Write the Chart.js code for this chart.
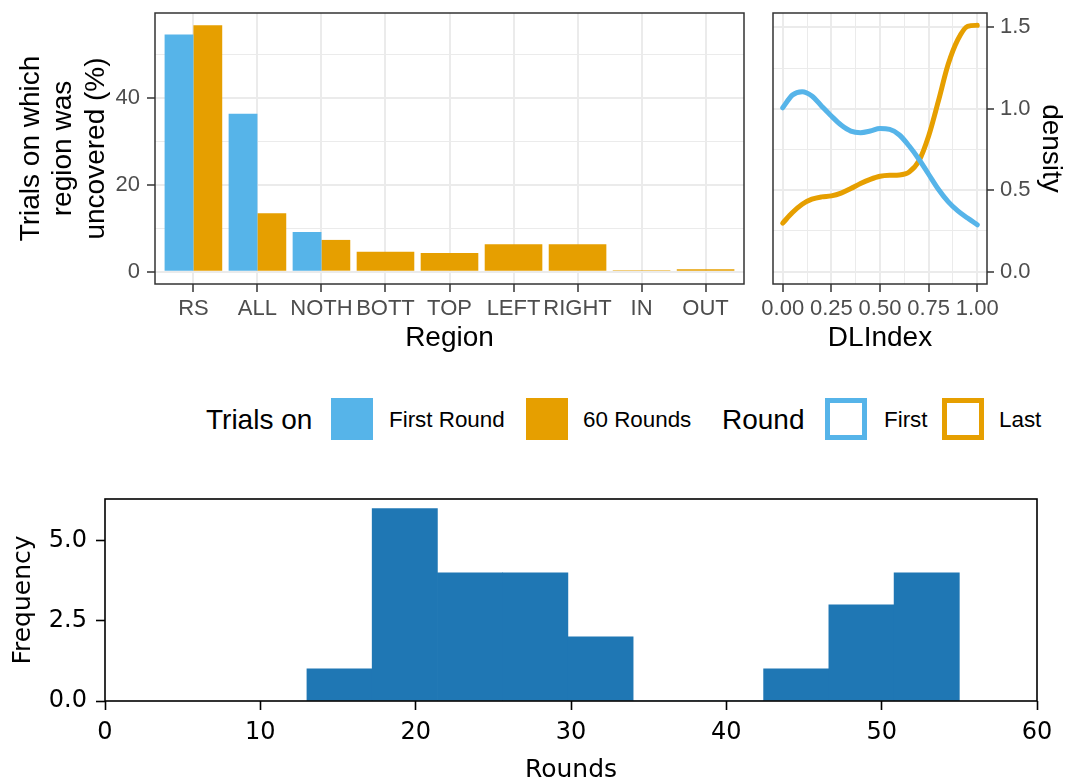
<!DOCTYPE html>
<html>
<head>
<meta charset="utf-8">
<script src="https://cdn.jsdelivr.net/npm/chart.js@4.4.0/dist/chart.umd.min.js"></script>
<style>
  body { margin: 0; background: #fff; width: 1077px; height: 780px; position: relative; overflow: hidden; font-family: 'Liberation Sans', Arial, sans-serif; }
  canvas { position: absolute; }
  .lg { position: absolute; top: 399px; height: 42px; line-height: 42px; white-space: nowrap; color: #000; }
  .lg.title { font-size: 28px; }
  .lg.item { font-size: 22.4px; }
  .key { position: absolute; top: 398px; width: 42px; height: 42px; box-sizing: border-box; }
</style>
</head>
<body>
<canvas id="barChart" width="760" height="360" style="left:0;top:0"></canvas>
<canvas id="densityChart" width="317" height="360" style="left:760px;top:0"></canvas>
<canvas id="histChart" width="1077" height="290" style="left:0;top:490px"></canvas>

<!-- legend -->
<span class="lg title" style="left:206px">Trials on</span>
<div class="key" style="left:331px;background:#56B4E9"></div>
<span class="lg item" style="left:389px">First Round</span>
<div class="key" style="left:526px;background:#E69F00"></div>
<span class="lg item" style="left:583px">60 Rounds</span>
<span class="lg title" style="left:722px">Round</span>
<div class="key" style="left:825px;border:5px solid #56B4E9"></div>
<span class="lg item" style="left:884px">First</span>
<div class="key" style="left:942px;border:5px solid #E69F00"></div>
<span class="lg item" style="left:999px">Last</span>

<script>
// Data
const regions = ['RS', 'ALL', 'NOTH', 'BOTT', 'TOP', 'LEFT', 'RIGHT', 'IN', 'OUT'];
const firstRound = [54.5, 36.3, 9.1, null, null, null, null, null, null];
const sixtyRounds = [56.6, 13.4, 7.3, 4.6, 4.3, 6.3, 6.3, 0.35, 0.55];

const dlIndex = [0, 0.05, 0.1, 0.15, 0.2, 0.25, 0.3, 0.35, 0.4, 0.45, 0.5, 0.55, 0.6, 0.65, 0.7, 0.75, 0.8, 0.85, 0.9, 0.95, 1.0];
const densityFirst = [1.006, 1.084, 1.104, 1.078, 1.016, 0.955, 0.9, 0.863, 0.853, 0.863, 0.878, 0.873, 0.839, 0.771, 0.69, 0.598, 0.506, 0.43, 0.373, 0.329, 0.288];
const densityLast = [0.298, 0.363, 0.414, 0.445, 0.459, 0.465, 0.482, 0.51, 0.541, 0.567, 0.586, 0.592, 0.594, 0.612, 0.68, 0.833, 1.047, 1.271, 1.424, 1.506, 1.512];

const binEdges = [13, 17.2, 21.4, 25.6, 29.8, 34, 38.2, 42.4, 46.6, 50.8, 55];
const roundCounts = [1, 6, 4, 4, 2, 0, 0, 1, 3, 4];

const BLUE = '#56B4E9';
const ORANGE = '#E69F00';
const GRID = '#EBEBEB';
const DARK = '#333333';
const TICK_TEXT = '#4D4D4D';

Chart.defaults.animation = false;
Chart.defaults.responsive = false;
Chart.defaults.font.family = "'Liberation Sans', Arial, sans-serif";

// Draw a frame around the plot area
const panelBorder = {
    id: 'panelBorder',
    afterDatasetsDraw(chart, args, opts) {
        const a = chart.chartArea;
        const ctx = chart.ctx;
        ctx.save();
        ctx.strokeStyle = opts.color;
        ctx.lineWidth = opts.width;
        ctx.strokeRect(a.left, a.top, a.right - a.left, a.bottom - a.top);
        ctx.restore();
    }
};

// Fix axis box size so panels line up
function fixSize(size) {
    return function (scale) {
        if (scale.isHorizontal()) scale.height = size;
        else scale.width = size;
        scale.paddingLeft = scale.paddingRight = scale.paddingTop = scale.paddingBottom = 0;
    };
}

function setTicks(values) {
    return function (scale) {
        scale.ticks = values.map(v => ({ value: v }));
    };
}

const isMultiple = (v, step) => Math.abs(v / step - Math.round(v / step)) < 1e-9;

// Bar chart
new Chart(document.getElementById('barChart'), {
    type: 'bar',
    data: {
        datasets: [
            {
                label: 'First Round',
                data: regions.map((r, i) => ({ x: i + 1, y: firstRound[i] })),
                backgroundColor: BLUE,
                borderWidth: 0
            },
            {
                label: '60 Rounds',
                data: regions.map((r, i) => ({ x: i + 1, y: sixtyRounds[i] })),
                backgroundColor: ORANGE,
                borderWidth: 0
            }
        ]
    },
    options: {
        skipNull: true,
        categoryPercentage: 0.9,
        barPercentage: 1,
        layout: { padding: { top: 13, right: 16, left: 0, bottom: 0 } },
        plugins: {
            legend: { display: false },
            tooltip: { enabled: false },
            panelBorder: { color: DARK, width: 1.5 }
        },
        scales: {
            x: {
                type: 'linear',
                min: 0.4,
                max: 9.6,
                offset: false,
                afterBuildTicks: setTicks(regions.map((r, i) => i + 1)),
                afterFit: fixSize(76),
                grid: { offset: false, color: GRID, lineWidth: 2, tickColor: DARK, tickLength: 8, tickWidth: 1.5 },
                border: { display: false },
                ticks: {
                    autoSkip: false, maxRotation: 0, minRotation: 0, padding: 4,
                    color: TICK_TEXT, font: { size: 22 },
                    callback: v => regions[Math.round(v) - 1]
                },
                title: { display: true, text: 'Region', color: '#000', font: { size: 28 }, padding: { top: 0, bottom: 5 } }
            },
            y: {
                min: -2.83,
                max: 59.43,
                afterBuildTicks: setTicks([0, 10, 20, 30, 40, 50]),
                afterFit: fixSize(155),
                grid: {
                    color: GRID,
                    lineWidth: ctx => (ctx.tick && isMultiple(ctx.tick.value, 20)) ? 2 : 1,
                    tickColor: ctx => (ctx.tick && isMultiple(ctx.tick.value, 20)) ? DARK : 'rgba(0,0,0,0)',
                    tickLength: 8, tickWidth: 1.5
                },
                border: { display: false },
                ticks: {
                    padding: 7, color: TICK_TEXT, font: { size: 22 },
                    callback: v => isMultiple(v, 20) ? String(v) : ''
                },
                title: {
                    display: true,
                    text: ['Trials on which', 'region was', 'uncovered (%)'],
                    color: '#000', font: { size: 28, lineHeight: 1.16 },
                    padding: { top: 15, bottom: 0 }
                }
            }
        }
    },
    plugins: [panelBorder]
});

// Density chart
new Chart(document.getElementById('densityChart'), {
    type: 'line',
    data: {
        datasets: [
            {
                label: 'First',
                data: dlIndex.map((x, i) => ({ x: x, y: densityFirst[i] })),
                borderColor: BLUE,
                borderWidth: 5,
                borderCapStyle: 'round',
                pointRadius: 0,
                cubicInterpolationMode: 'monotone'
            },
            {
                label: 'Last',
                data: dlIndex.map((x, i) => ({ x: x, y: densityLast[i] })),
                borderColor: ORANGE,
                borderWidth: 5,
                borderCapStyle: 'round',
                pointRadius: 0,
                cubicInterpolationMode: 'monotone'
            }
        ]
    },
    options: {
        layout: { padding: { top: 13, left: 13, right: 0, bottom: 0 } },
        plugins: {
            legend: { display: false },
            tooltip: { enabled: false },
            panelBorder: { color: DARK, width: 1.5 }
        },
        scales: {
            x: {
                type: 'linear',
                min: -0.05,
                max: 1.05,
                afterBuildTicks: setTicks([0, 0.125, 0.25, 0.375, 0.5, 0.625, 0.75, 0.875, 1]),
                afterFit: fixSize(76),
                grid: {
                    color: GRID,
                    lineWidth: ctx => (ctx.tick && isMultiple(ctx.tick.value, 0.25)) ? 2 : 1,
                    tickColor: ctx => (ctx.tick && isMultiple(ctx.tick.value, 0.25)) ? DARK : 'rgba(0,0,0,0)',
                    tickLength: 8, tickWidth: 1.5
                },
                border: { display: false },
                ticks: {
                    autoSkip: false, maxRotation: 0, minRotation: 0, padding: 4,
                    color: TICK_TEXT, font: { size: 22 },
                    callback: v => isMultiple(v, 0.25) ? v.toFixed(2) : ''
                },
                title: { display: true, text: 'DLIndex', color: '#000', font: { size: 28 }, padding: { top: 0, bottom: 5 } }
            },
            y: {
                position: 'right',
                min: -0.0756,
                max: 1.5876,
                afterBuildTicks: setTicks([0, 0.25, 0.5, 0.75, 1, 1.25, 1.5]),
                afterFit: fixSize(90),
                grid: {
                    color: GRID,
                    lineWidth: ctx => (ctx.tick && isMultiple(ctx.tick.value, 0.5)) ? 2 : 1,
                    tickColor: ctx => (ctx.tick && isMultiple(ctx.tick.value, 0.5)) ? DARK : 'rgba(0,0,0,0)',
                    tickLength: 7, tickWidth: 1.5
                },
                border: { display: false },
                ticks: {
                    padding: 6, color: TICK_TEXT, font: { size: 22 },
                    callback: v => isMultiple(v, 0.5) ? v.toFixed(1) : ''
                },
                title: { display: true, text: 'density', color: '#000', font: { size: 28 }, padding: { top: 9, bottom: 0 } }
            }
        }
    },
    plugins: [panelBorder]
});

// Histogram of rounds
new Chart(document.getElementById('histChart'), {
    type: 'bar',
    data: {
        datasets: [{
            label: 'Rounds',
            data: roundCounts.map((c, i) => ({ x: (binEdges[i] + binEdges[i + 1]) / 2, y: c })),
            backgroundColor: '#1f77b4',
            borderWidth: 0,
            categoryPercentage: 1,
            barPercentage: 1
        }]
    },
    options: {
        layout: { padding: { top: 9, right: 40, left: 0, bottom: 0 } },
        plugins: {
            legend: { display: false },
            tooltip: { enabled: false },
            panelBorder: { color: '#000', width: 1.6 }
        },
        scales: {
            x: {
                type: 'linear',
                min: 0,
                max: 60,
                offset: false,
                afterBuildTicks: setTicks([0, 10, 20, 30, 40, 50, 60]),
                afterFit: fixSize(79),
                grid: { offset: false, drawOnChartArea: false, tickColor: '#000', tickLength: 9, tickWidth: 1.6 },
                border: { display: false },
                ticks: {
                    autoSkip: false, maxRotation: 0, padding: 8, color: '#000',
                    font: { family: "'DejaVu Sans', sans-serif", size: 24 }
                },
                title: {
                    display: true, text: 'Rounds', color: '#000',
                    font: { family: "'DejaVu Sans', sans-serif", size: 25 },
                    padding: { top: 0, bottom: -5 }
                }
            },
            y: {
                min: 0,
                max: 6.3,
                afterBuildTicks: setTicks([0, 2.5, 5]),
                afterFit: fixSize(105),
                grid: { drawOnChartArea: false, tickColor: '#000', tickLength: 9, tickWidth: 1.6 },
                border: { display: false },
                ticks: {
                    padding: 9, color: '#000',
                    font: { family: "'DejaVu Sans', sans-serif", size: 24 },
                    callback: v => v.toFixed(1)
                },
                title: {
                    display: true, text: 'Frequency', color: '#000',
                    font: { family: "'DejaVu Sans', sans-serif", size: 25 },
                    padding: { top: 8, bottom: 0 }
                }
            }
        }
    },
    plugins: [panelBorder]
});
</script>
</body>
</html>
